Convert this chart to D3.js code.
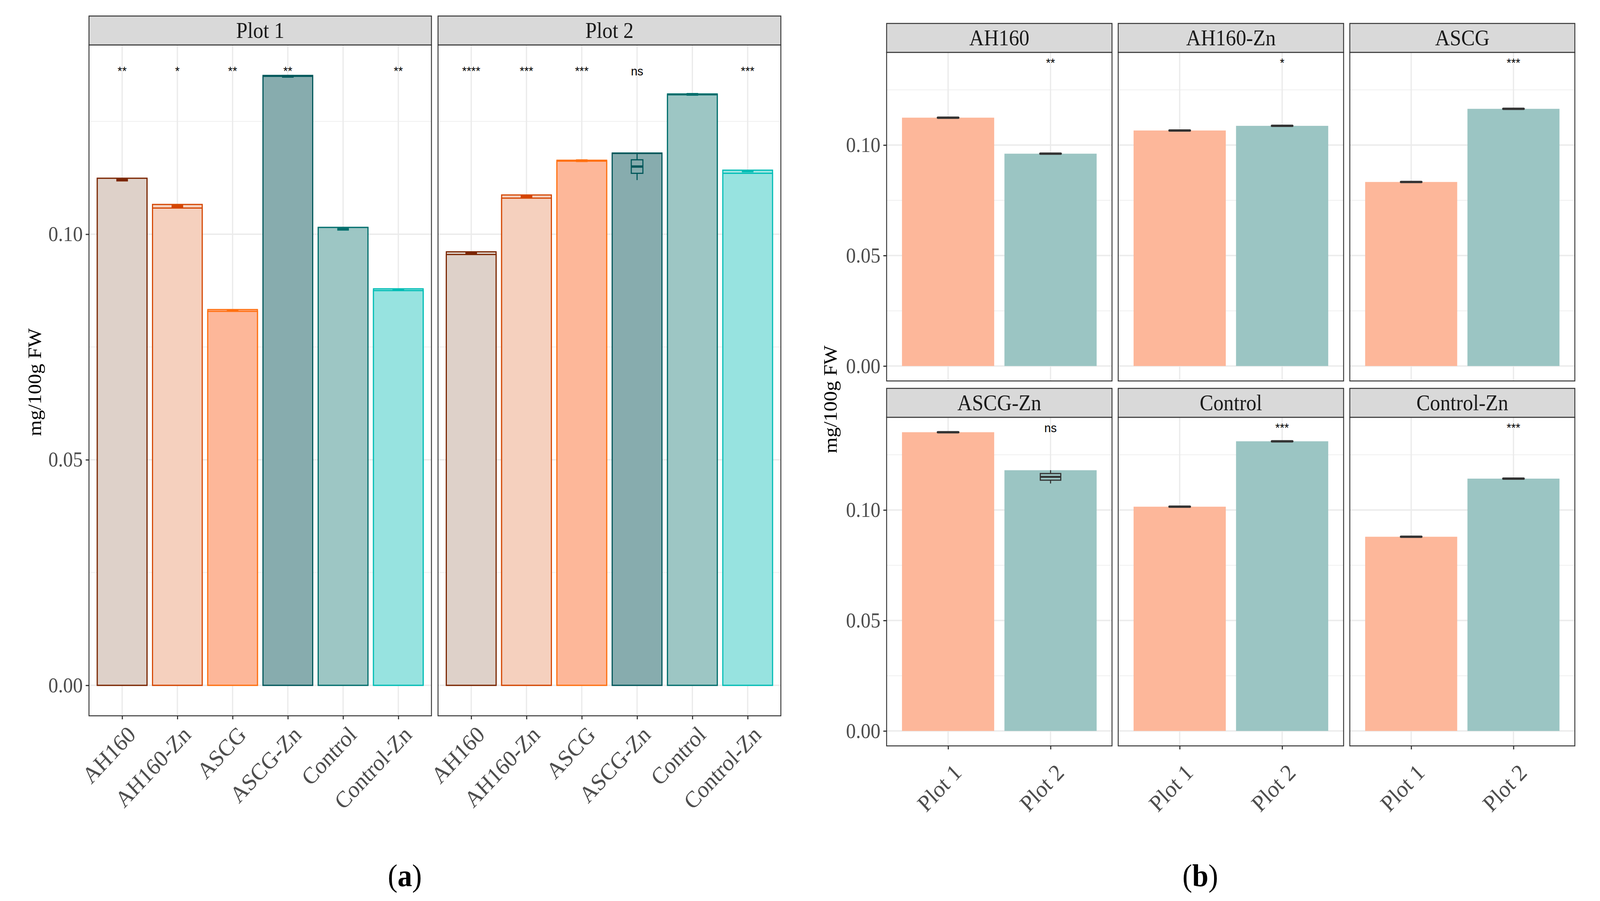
<!DOCTYPE html>
<html>
<head>
<meta charset="utf-8">
<script src="https://cdn.jsdelivr.net/npm/d3@7"></script>
<style>
  html, body { margin: 0; padding: 0; background: #fff; overflow: hidden; }
  svg { display: block; width: 100vw; height: 100vh; }
</style>
</head>
<body>
<div id="chart"></div>
<script>

// ---- data ----
var treatments = ["AH160", "AH160-Zn", "ASCG", "ASCG-Zn", "Control", "Control-Zn"];
var plots = ["Plot 1", "Plot 2"];

// highest replicate (bar top), lower replicate line, box median
var plot1Top = [0.1124, 0.1066, 0.0833, 0.1352, 0.1015, 0.0879];
var plot1Low = [0.1124, 0.1058, 0.0829, 0.1350, 0.1015, 0.0875];
var plot1Med = [0.1120, 0.1062, 0.0831, 0.1350, 0.1011, 0.0877];
var plot2Top = [0.0961, 0.1087, 0.1164, 0.1180, 0.1311, 0.1142];
var plot2Low = [0.0955, 0.1080, 0.1162, 0.1179, 0.1309, 0.1135];
var plot2Med = [0.0958, 0.1084, 0.1163, 0.1150, 0.1310, 0.1140];

// the one visible box: ASCG-Zn, Plot 2 (min, q1, median, q3, max)
var ascgZnPlot2Box = [0.1120, 0.1135, 0.1150, 0.1165, 0.1180];

// significance labels
var plot1Sig = ["**", "*", "**", "**", "", "**"];
var plot2Sig = ["****", "***", "***", "ns", "", "***"];
var facetSig = ["**", "*", "***", "ns", "***", "***"];

var yTicks = [0, 0.05, 0.10];
var yMinor = [0.025, 0.075, 0.125];

var fillColors = ["#DED1C9", "#F5D0BE", "#FDB799", "#87ACAE", "#9DC6C4", "#97E3E0"];
var lineColors = ["#7A2500", "#D44500", "#FF7010", "#00575A", "#006E6C", "#00BDB5"];
var plotFills = ["#FDB79A", "#9BC5C3"];

// ---- layout ----
var width = 4387;
var height = 2306;
var serif = "'Liberation Serif', 'Times New Roman', serif";
var sans = "'Liberation Sans', Arial, sans-serif";

// stretch the 4387x2306 drawing to whatever the window really is
var svg = d3.select("#chart")
	.append("svg")
	.attr("viewBox", "0 0 " + width + " " + height)
	.attr("preserveAspectRatio", "none")
	.style("font-family", serif);

svg.append("rect").attr("width", width).attr("height", height).attr("fill", "#fff");

var maxVal = d3.max(plot1Top.concat(plot2Top));
var yDomain = [-0.05 * maxVal, 1.05 * maxVal];

// draws one facet: grid, marks (callback), border, strip, axes
function facet(o) {
	var x = d3.scalePoint()
		.domain(o.cats)
		.range([o.left, o.right])
		.padding(0.6);
	var y = d3.scaleLinear()
		.domain(yDomain)
		.range([o.bottom, o.top]);

	var g = svg.append("g");

	g.selectAll(".minor")
		.data(yMinor)
		.enter().append("line")
		.attr("x1", o.left).attr("x2", o.right)
		.attr("y1", function(d){ return y(d); })
		.attr("y2", function(d){ return y(d); })
		.attr("stroke", "#EFEFEF").attr("stroke-width", 2);

	g.selectAll(".major")
		.data(yTicks)
		.enter().append("line")
		.attr("x1", o.left).attr("x2", o.right)
		.attr("y1", function(d){ return y(d); })
		.attr("y2", function(d){ return y(d); })
		.attr("stroke", "#EBEBEB").attr("stroke-width", 3.5);

	g.selectAll(".vmajor")
		.data(o.cats)
		.enter().append("line")
		.attr("x1", function(d){ return x(d); })
		.attr("x2", function(d){ return x(d); })
		.attr("y1", o.top).attr("y2", o.bottom)
		.attr("stroke", "#EBEBEB").attr("stroke-width", 3.5);

	o.marks(g, x, y);

	// panel border
	g.append("rect")
		.attr("x", o.left).attr("y", o.top)
		.attr("width", o.right - o.left).attr("height", o.bottom - o.top)
		.attr("fill", "none").attr("stroke", "#333").attr("stroke-width", 2.5);

	// strip
	g.append("rect")
		.attr("x", o.left).attr("y", o.stripTop)
		.attr("width", o.right - o.left).attr("height", o.top - o.stripTop)
		.attr("fill", "#D9D9D9").attr("stroke", "#333").attr("stroke-width", 2.5);
	g.append("text")
		.attr("x", (o.left + o.right) / 2)
		.attr("y", (o.stripTop + o.top) / 2 + 19)
		.attr("text-anchor", "middle")
		.style("font-family", serif)
		.style("font-size", "56px")
		.attr("fill", "#1A1A1A")
		.text(o.title);

	if (o.leftAxis) {
		var ya = g.append("g")
			.attr("transform", "translate(" + o.left + ",0)")
			.call(d3.axisLeft(y)
				.tickValues(yTicks)
				.tickSize(9)
				.tickPadding(8)
				.tickFormat(d3.format(".2f")));
		ya.select(".domain").remove();
		ya.selectAll(".tick line").attr("stroke", "#333").attr("stroke-width", 3);
		ya.selectAll(".tick text")
			.style("font-family", serif)
			.style("font-size", "54px")
			.attr("fill", "#4D4D4D");
	}

	if (o.bottomAxis) {
		var xa = g.append("g")
			.attr("transform", "translate(0," + o.bottom + ")")
			.call(d3.axisBottom(x).tickSize(9));
		xa.select(".domain").remove();
		xa.selectAll(".tick line").attr("stroke", "#333").attr("stroke-width", 3);
		xa.selectAll(".tick text")
			.style("font-family", serif)
			.style("font-size", "60px")
			.attr("fill", "#4D4D4D")
			.attr("text-anchor", "end")
			.attr("x", 0).attr("y", 0)
			.attr("dy", "0.68em")
			.attr("transform", "translate(11," + o.labelDrop + ") rotate(-45)");
	}

	return { x: x, y: y };
}

function sigText(g, x, y, cats, labels) {
	g.selectAll(".sig")
		.data(cats)
		.enter().append("text")
		.attr("x", function(d){ return x(d); })
		.attr("y", y(maxVal))
		.attr("text-anchor", "middle")
		.style("font-family", sans)
		.style("font-size", "32px")
		.attr("fill", "#000")
		.text(function(d, i){ return labels[i]; });
}

// ---- panel (a) ----
var aLeft = [244, 1201], aRight = [1183, 2141];
var tops = [plot1Top, plot2Top], lows = [plot1Low, plot2Low], meds = [plot1Med, plot2Med];
var sigs = [plot1Sig, plot2Sig];

plots.forEach(function(p, pi) {
	facet({
		left: aLeft[pi], right: aRight[pi],
		stripTop: 41, top: 115, bottom: 1832,
		title: p, cats: treatments,
		leftAxis: pi === 0, bottomAxis: true, labelDrop: 23,
		marks: function(g, x, y) {
			var bw = x.step() * 0.9;
			var boxW = x.step() * 0.21;
			[tops[pi], lows[pi]].forEach(function(vals) {
				g.selectAll(null)
					.data(treatments)
					.enter().append("rect")
					.attr("x", function(d){ return x(d) - bw / 2; })
					.attr("y", function(d, i){ return y(vals[i]); })
					.attr("width", bw)
					.attr("height", function(d, i){ return y(0) - y(vals[i]); })
					.attr("fill", function(d, i){ return fillColors[i]; })
					.attr("stroke", function(d, i){ return lineColors[i]; })
					.attr("stroke-width", 3);
			});
			g.selectAll(null)
				.data(treatments)
				.enter().append("line")
				.attr("x1", function(d){ return x(d) - boxW / 2; })
				.attr("x2", function(d){ return x(d) + boxW / 2; })
				.attr("y1", function(d, i){ return y(meds[pi][i]); })
				.attr("y2", function(d, i){ return y(meds[pi][i]); })
				.attr("stroke", function(d, i){ return lineColors[i]; })
				.attr("stroke-width", 7);
			if (pi === 1) {
				var c = x("ASCG-Zn"), col = lineColors[3], b = ascgZnPlot2Box;
				g.append("line")
					.attr("x1", c).attr("x2", c)
					.attr("y1", y(b[0])).attr("y2", y(b[4]))
					.attr("stroke", col).attr("stroke-width", 3);
				g.append("rect")
					.attr("x", c - boxW / 2).attr("y", y(b[3]))
					.attr("width", boxW).attr("height", y(b[1]) - y(b[3]))
					.attr("fill", fillColors[3]).attr("stroke", col).attr("stroke-width", 3);
				g.append("line")
					.attr("x1", c - boxW / 2).attr("x2", c + boxW / 2)
					.attr("y1", y(b[2])).attr("y2", y(b[2]))
					.attr("stroke", col).attr("stroke-width", 6);
			}
			sigText(g, x, y, treatments, sigs[pi]);
		}
	});
});

// ---- panel (b) ----
var bLeft = [2431, 3066, 3701], bRight = [3049, 3684, 4318];
var bStrip = [60, 994], bTop = [134, 1068], bBottom = [975, 1909];

treatments.forEach(function(t, ti) {
	var row = Math.floor(ti / 3), col = ti % 3;
	var vals = [plot1Top[ti], plot2Top[ti]];
	facet({
		left: bLeft[col], right: bRight[col],
		stripTop: bStrip[row], top: bTop[row], bottom: bBottom[row],
		title: t, cats: plots,
		leftAxis: col === 0, bottomAxis: row === 1, labelDrop: 43,
		marks: function(g, x, y) {
			var bw = x.step() * 0.9;
			var segW = x.step() * 0.2;
			var isBox = function(i){ return t === "ASCG-Zn" && i === 1; };
			g.selectAll(null)
				.data(plots)
				.enter().append("rect")
				.attr("x", function(d){ return x(d) - bw / 2; })
				.attr("y", function(d, i){ return y(vals[i]); })
				.attr("width", bw)
				.attr("height", function(d, i){ return y(0) - y(vals[i]); })
				.attr("fill", function(d, i){ return plotFills[i]; });
			g.selectAll(null)
				.data(plots)
				.enter().append("line")
				.filter(function(d, i){ return !isBox(i); })
				.attr("x1", function(d){ return x(d) - segW / 2; })
				.attr("x2", function(d){ return x(d) + segW / 2; })
				.attr("y1", function(d){ return y(vals[plots.indexOf(d)]); })
				.attr("y2", function(d){ return y(vals[plots.indexOf(d)]); })
				.attr("stroke", "#333")
				.attr("stroke-width", 6)
				.attr("stroke-linecap", "round");
			if (t === "ASCG-Zn") {
				var c = x("Plot 2"), b = ascgZnPlot2Box;
				g.append("line")
					.attr("x1", c).attr("x2", c)
					.attr("y1", y(b[0])).attr("y2", y(b[4]))
					.attr("stroke", "#333").attr("stroke-width", 3);
				g.append("rect")
					.attr("x", c - segW / 2).attr("y", y(b[3]))
					.attr("width", segW).attr("height", y(b[1]) - y(b[3]))
					.attr("fill", plotFills[1]).attr("stroke", "#333").attr("stroke-width", 3);
				g.append("line")
					.attr("x1", c - segW / 2).attr("x2", c + segW / 2)
					.attr("y1", y(b[2])).attr("y2", y(b[2]))
					.attr("stroke", "#333").attr("stroke-width", 5);
			}
			g.append("text")
				.attr("x", x("Plot 2"))
				.attr("y", y(maxVal))
				.attr("text-anchor", "middle")
				.style("font-family", sans)
				.style("font-size", "32px")
				.text(facetSig[ti]);
		}
	});
});

// ---- axis titles and panel letters ----
svg.append("text")
	.attr("transform", "translate(112,978) rotate(-90)")
	.attr("text-anchor", "middle")
	.style("font-size", "52px")
	.text("mg/100g FW");

svg.append("text")
	.attr("transform", "translate(2294,1022) rotate(-90)")
	.attr("text-anchor", "middle")
	.style("font-size", "52px")
	.text("mg/100g FW");

[["a", 1110], ["b", 3291]].forEach(function(l) {
	var t = svg.append("text")
		.attr("x", l[1]).attr("y", 2268)
		.attr("text-anchor", "middle")
		.style("font-size", "80px");
	t.append("tspan").text("(");
	t.append("tspan").attr("font-weight", "bold").text(l[0]);
	t.append("tspan").text(")");
});

</script>
</body>
</html>
